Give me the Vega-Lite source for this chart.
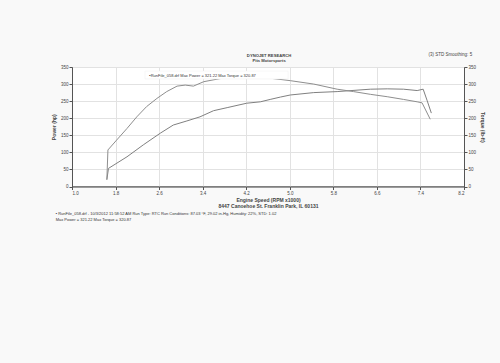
{
  "$schema": "https://vega.github.io/schema/vega-lite/v6.json",
  "autosize": "none",
  "width": 392,
  "height": 119.5,
  "padding": {"left": 72, "top": 67, "right": 36, "bottom": 176.5},
  "background": "#f9f9f9",
  "config": {
    "font": "Liberation Sans",
    "view": {"stroke": "#555", "fill": "#ffffff"},
    "axis": {"labelFontSize": 4.5, "titleFontSize": 5, "labelColor": "#444", "titleColor": "#444", "domainColor": "#555", "tickColor": "#555", "gridColor": "#e2e2e2", "tickSize": 3, "labelPadding": 1}
  },
  "datasets": {
    "curves": [
      {"rpm": 1.64, "value": 20, "series": "Torque"},
      {"rpm": 1.66, "value": 107, "series": "Torque"},
      {"rpm": 1.82, "value": 136, "series": "Torque"},
      {"rpm": 2.01, "value": 170, "series": "Torque"},
      {"rpm": 2.19, "value": 204, "series": "Torque"},
      {"rpm": 2.37, "value": 234, "series": "Torque"},
      {"rpm": 2.56, "value": 258, "series": "Torque"},
      {"rpm": 2.74, "value": 278, "series": "Torque"},
      {"rpm": 2.93, "value": 294, "series": "Torque"},
      {"rpm": 3.08, "value": 297, "series": "Torque"},
      {"rpm": 3.23, "value": 294, "series": "Torque"},
      {"rpm": 3.42, "value": 307, "series": "Torque"},
      {"rpm": 3.72, "value": 316, "series": "Torque"},
      {"rpm": 4.05, "value": 320, "series": "Torque"},
      {"rpm": 4.35, "value": 321, "series": "Torque"},
      {"rpm": 4.65, "value": 317, "series": "Torque"},
      {"rpm": 5.01, "value": 310, "series": "Torque"},
      {"rpm": 5.44, "value": 300, "series": "Torque"},
      {"rpm": 5.87, "value": 285, "series": "Torque"},
      {"rpm": 6.17, "value": 278, "series": "Torque"},
      {"rpm": 6.48, "value": 270, "series": "Torque"},
      {"rpm": 6.79, "value": 263, "series": "Torque"},
      {"rpm": 7.09, "value": 255, "series": "Torque"},
      {"rpm": 7.34, "value": 248, "series": "Torque"},
      {"rpm": 7.43, "value": 245, "series": "Torque"},
      {"rpm": 7.58, "value": 197, "series": "Torque"},
      {"rpm": 1.64, "value": 20, "series": "Power"},
      {"rpm": 1.67, "value": 53, "series": "Power"},
      {"rpm": 2.01, "value": 87, "series": "Power"},
      {"rpm": 2.31, "value": 122, "series": "Power"},
      {"rpm": 2.62, "value": 156, "series": "Power"},
      {"rpm": 2.86, "value": 180, "series": "Power"},
      {"rpm": 3.11, "value": 192, "series": "Power"},
      {"rpm": 3.35, "value": 204, "series": "Power"},
      {"rpm": 3.60, "value": 222, "series": "Power"},
      {"rpm": 3.85, "value": 231, "series": "Power"},
      {"rpm": 4.21, "value": 244, "series": "Power"},
      {"rpm": 4.46, "value": 248, "series": "Power"},
      {"rpm": 4.64, "value": 255, "series": "Power"},
      {"rpm": 4.83, "value": 262, "series": "Power"},
      {"rpm": 5.01, "value": 268, "series": "Power"},
      {"rpm": 5.44, "value": 275, "series": "Power"},
      {"rpm": 5.87, "value": 278, "series": "Power"},
      {"rpm": 6.48, "value": 285, "series": "Power"},
      {"rpm": 6.79, "value": 286, "series": "Power"},
      {"rpm": 7.09, "value": 285, "series": "Power"},
      {"rpm": 7.34, "value": 281, "series": "Power"},
      {"rpm": 7.45, "value": 285, "series": "Power"},
      {"rpm": 7.52, "value": 253, "series": "Power"},
      {"rpm": 7.60, "value": 215, "series": "Power"}
    ]
  },
  "resolve": {"scale": {"y": "shared"}, "axis": {"y": "independent"}},
  "layer": [
    {
      "data": {"name": "curves"},
      "transform": [{"filter": "datum.series === 'Power'"}],
      "mark": {"type": "line", "color": "#808080", "strokeWidth": 1},
      "encoding": {
        "x": {"field": "rpm", "type": "quantitative", "scale": {"domain": [1.0, 8.2], "nice": false, "zero": false},
              "axis": {"values": [1.0, 1.8, 2.6, 3.4, 4.2, 5.0, 5.8, 6.6, 7.4, 8.2], "format": ".1f", "title": ["Engine Speed (RPM x1000)", "8447 Canoehoe St.  Franklin Park, IL  60131"], "titleFontWeight": "bold", "titlePadding": 2, "titleLineHeight": 6}},
        "y": {"field": "value", "type": "quantitative", "scale": {"domain": [0, 350], "nice": false},
              "axis": {"values": [0, 50, 100, 150, 200, 250, 300, 350], "title": "Power (hp)", "titlePadding": 4}}
      }
    },
    {
      "data": {"name": "curves"},
      "transform": [{"filter": "datum.series === 'Torque'"}],
      "mark": {"type": "line", "color": "#8e8e8e", "strokeWidth": 1},
      "encoding": {
        "x": {"field": "rpm", "type": "quantitative"},
        "y": {"field": "value", "type": "quantitative",
              "axis": {"orient": "right", "values": [0, 50, 100, 150, 200, 250, 300, 350], "grid": false, "title": "Torque (lb-ft)", "titleAngle": 90, "titlePadding": 4}}
      }
    },
    {
      "data": {"values": [{}]},
      "mark": {"type": "rect", "fill": "#ffffff", "stroke": "#eeeeee", "strokeWidth": 0.5},
      "encoding": {
        "x": {"datum": 2.34, "type": "quantitative"},
        "x2": {"datum": 4.97},
        "y": {"datum": 315, "type": "quantitative", "axis": null},
        "y2": {"datum": 338}
      }
    },
    {
      "data": {"values": [{}]},
      "mark": {"type": "text", "text": "▪RunFile_058.drf Max Power = 321.22    Max Torque = 320.87", "fontSize": 4, "align": "left", "baseline": "middle", "color": "#333"},
      "encoding": {
        "x": {"datum": 2.42, "type": "quantitative"},
        "y": {"datum": 324, "type": "quantitative", "axis": null}
      }
    },
    {
      "data": {"values": [{}]},
      "mark": {"type": "text", "text": ["DYNOJET RESEARCH", "Pits Motorsports"], "fontSize": 4.2, "fontWeight": "bold", "lineHeight": 5, "align": "center", "baseline": "middle", "color": "#444"},
      "encoding": {
        "x": {"datum": 4.62, "type": "quantitative"},
        "y": {"datum": 382, "type": "quantitative", "axis": null}
      }
    },
    {
      "data": {"values": [{}]},
      "mark": {"type": "text", "text": "(3) STD Smoothing: 5", "fontSize": 4.5, "align": "left", "baseline": "middle", "color": "#444"},
      "encoding": {
        "x": {"datum": 7.55, "type": "quantitative"},
        "y": {"datum": 386, "type": "quantitative", "axis": null}
      }
    },
    {
      "data": {"values": [{}]},
      "mark": {"type": "text", "text": ["▪ RunFile_058.drf - 10/3/2012 11:58:52 AM  Run Type: RTC  Run Conditions: 87.03 °F, 29.02 in-Hg,  Humidity: 22%, STD: 1.02", "    Max Power = 321.22  Max Torque = 320.87"], "fontSize": 4, "lineHeight": 6, "align": "left", "baseline": "middle", "color": "#333"},
      "encoding": {
        "x": {"datum": 0.7, "type": "quantitative"},
        "y": {"datum": -81, "type": "quantitative", "axis": null}
      }
    }
  ]
}
